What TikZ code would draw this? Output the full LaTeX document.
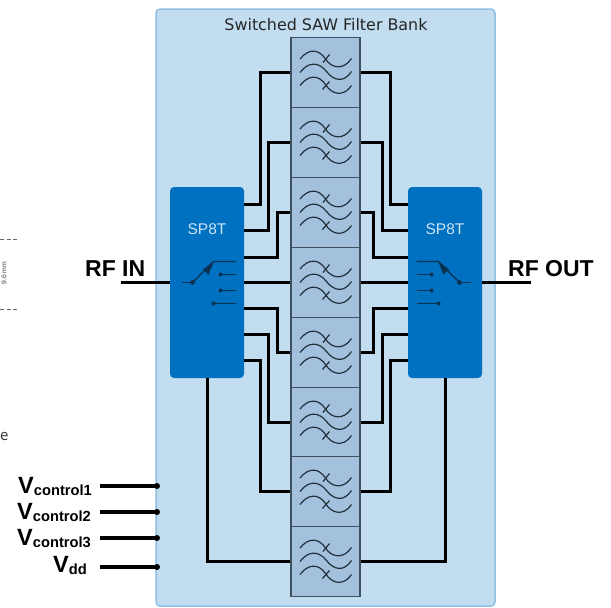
\documentclass[tikz,border=0pt]{standalone}
\usepackage{fontspec}
\setmainfont{Liberation Sans}
\newfontfamily\titlefont{DejaVu Sans}
\newfontfamily\edgefont{Open Sans}
\usetikzlibrary{arrows.meta}
\definecolor{panelfill}{HTML}{C2DCF0}
\definecolor{panelline}{HTML}{8FBFE3}
\definecolor{switchfill}{HTML}{0070C0}
\definecolor{filterfill}{HTML}{A3C1DC}
\definecolor{filterline}{HTML}{3F5060}
\definecolor{glyphline}{HTML}{22303C}
\definecolor{stubline}{HTML}{0C3050}
\definecolor{sptext}{HTML}{CFE4F5}
\tikzset{
  x=1pt,y=-1pt,
  panelbox/.style={draw=panelline,fill=panelfill,line width=1.5pt,rounded corners=4pt},
  switchbox/.style={fill=switchfill,rounded corners=4pt,inner sep=0pt,minimum width=74pt,minimum height=191pt},
  filterbox/.style={draw=filterline,fill=filterfill,line width=1.8pt,inner sep=0pt,minimum width=69pt,minimum height=70pt},
  wire/.style={draw=black,line width=3pt,line join=miter},
  ctrl/.style={draw=black,line width=4pt},
  wave/.style={draw=glyphline,line width=1.2pt},
  stub/.style={draw=stubline,line width=1.2pt},
  rflabel/.style={font=\fontsize{23}{23}\selectfont\bfseries,inner sep=0pt,anchor=base west},
  vlabel/.style={inner sep=0pt,anchor=base west},
  sawglyph/.pic={
    \draw[wave] (-25.5,-13.5) .. controls (-17,-24) and (-7,-24) .. (0,-13.5) .. controls (6,-4) and (18,-2) .. (26,-14);
    \draw[wave] (-25.5,0) .. controls (-17,-11) and (-7,-11) .. (1,-1) .. controls (8,8) and (18,11) .. (26,-1);
    \draw[wave] (-25.5,13) .. controls (-17,2) and (-7,2) .. (0,12) .. controls (6,22) and (18,25) .. (26,13);
    \draw[wave] (4,-18) -- (-2.5,-10);
    \draw[wave] (4,9) -- (-3,17);
  },
  pole/.pic={
    \draw[stub] (0,0) -- (11,0);
    \fill[stubline] (11,0) circle (2.4pt);
    \draw[stub] (11,0) -- (32,-21) -- (54,-21);
    \fill[stubline] (32.5,-21.5) -- (21.5,-13) -- (27,-8) -- cycle;
    \draw[stub] (39,-8) -- (54,-8);
    \fill[stubline] (39,-8) circle (2pt);
    \draw[stub] (39,8) -- (54,8);
    \fill[stubline] (39,8) circle (2pt);
    \draw[stub] (32,21) -- (54,21);
    \fill[stubline] (32,21) circle (2pt);
  },
}
\newcommand{\vtext}[2]{{\fontsize{23.5}{23.5}\selectfont\bfseries #1}\raisebox{-2.6pt}{\fontsize{14.7}{14.7}\selectfont\bfseries #2}}
\begin{document}
\begin{tikzpicture}
\useasboundingbox (0,0) rectangle (611,608);
\fill[white] (0,0) rectangle (611,608);
% fragments at the left edge
\draw[gray!80!black,line width=.6pt,dash pattern=on 4pt off 2.5pt] (0,239.5) -- (17,239.5);
\draw[gray!80!black,line width=.6pt,dash pattern=on 4pt off 2.5pt] (0,309.5) -- (17,309.5);
\node[rotate=90,inner sep=0pt,text=black!75] (dim) at (4,273) {\fontsize{6.8}{7}\selectfont 9.6 mm};
\node[inner sep=0pt,anchor=base west,text=black!80] (frag) at (0,440) {\edgefont\fontsize{15}{15}\selectfont e};

\draw[panelbox] (156,9) rectangle (495,606);
\node[inner sep=0pt,text=black!85] (title) at (326,24.5) {\titlefont\fontsize{15.9}{16}\selectfont Switched SAW Filter Bank};

% filters
\foreach \i/\y in {1/72.5,2/142.5,3/212.5,4/282.5,5/352.5,6/422.5,7/491.5,8/561.5}{
  \node[filterbox] (f\i) at (325.5,\y) {};
  \pic at (325.5,\y) {sawglyph};
}

% switches
\node[switchbox] (swl) at (207,282.5) {};
\node[switchbox] (swr) at (445,282.5) {};
\node[inner sep=0pt,text=sptext] (sl) at (207,229) {\fontsize{15.5}{15.5}\selectfont SP8T};
\node[inner sep=0pt,text=sptext] (sr) at (445,229) {\fontsize{15.5}{15.5}\selectfont SP8T};
\pic at (181.5,282.5) {pole};
\pic[xscale=-1] at (470.5,282.5) {pole};

% switch ports
\foreach \n/\y in {1/204.5,2/230.5,3/257.5,4/282.5,5/308.5,6/334.5,7/360.5}{
  \coordinate (pl\n) at (swl.east|-0,\y);
  \coordinate (pr\n) at (swr.west|-0,\y);
}
\coordinate (bl1) at (260.5,0); \coordinate (bl2) at (268.5,0); \coordinate (bl3) at (277.5,0);
\coordinate (br1) at (390.5,0); \coordinate (br2) at (382.5,0); \coordinate (br3) at (373.5,0);

% left wires
\draw[wire] (f1.west) -| (bl1|-pl1) -- (pl1);
\draw[wire] (f2.west) -| (bl2|-pl2) -- (pl2);
\draw[wire] (f3.west) -| (bl3|-pl3) -- (pl3);
\draw[wire] (f4.west) -- (pl4);
\draw[wire] (f5.west) -| (bl3|-pl5) -- (pl5);
\draw[wire] (f6.west) -| (bl2|-pl6) -- (pl6);
\draw[wire] (f7.west) -| (bl1|-pl7) -- (pl7);
\draw[wire] (f8.west) -| (swl.south);
% right wires
\draw[wire] (f1.east) -| (br1|-pr1) -- (pr1);
\draw[wire] (f2.east) -| (br2|-pr2) -- (pr2);
\draw[wire] (f3.east) -| (br3|-pr3) -- (pr3);
\draw[wire] (f4.east) -- (pr4);
\draw[wire] (f5.east) -| (br3|-pr5) -- (pr5);
\draw[wire] (f6.east) -| (br2|-pr6) -- (pr6);
\draw[wire] (f7.east) -| (br1|-pr7) -- (pr7);
\draw[wire] (f8.east) -| (swr.south);

% RF ports
\coordinate (rfin) at (121,282.5);
\coordinate (rfout) at (531,282.5);
\draw[wire] (rfin) -- (swl.west|-rfin);
\draw[wire] (swr.east|-rfout) -- (rfout);
\node[rflabel] (lin) at (85,276) {RF IN};
\node[rflabel] (lout) at (508,276) {RF OUT};

% control inputs
\foreach \n/\y in {1/486,2/512,3/538,4/567}{
  \coordinate (cs\n) at (100,\y);
  \coordinate (ce\n) at (157,\y);
  \draw[ctrl] (cs\n) -- (ce\n);
  \fill (ce\n) circle (3pt);
}
\node[vlabel] (v1) at (18,493) {\vtext{V}{control1}};
\node[vlabel] (v2) at (17,519) {\vtext{V}{control2}};
\node[vlabel] (v3) at (17,545) {\vtext{V}{control3}};
\node[vlabel] (v4) at (53,572) {\vtext{V}{dd}};
\end{tikzpicture}
\end{document}
